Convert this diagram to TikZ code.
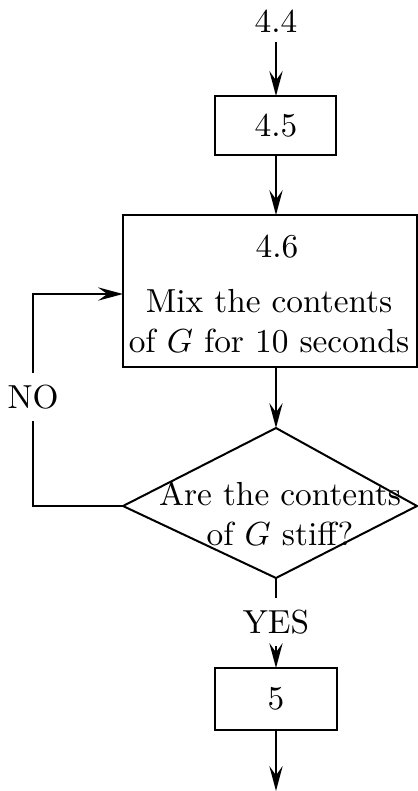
\documentclass[tikz,border=0pt]{standalone}
\usetikzlibrary{arrows.meta}
\begin{document}
\begin{tikzpicture}[x=0.3pt,y=-0.3pt, line width=0.6pt,
  >={Stealth[length=7.5pt,width=4pt,inset=2.8pt]},
  box/.style={draw, rectangle, inner sep=0pt, outer sep=0pt},
  lbl/.style={inner sep=3pt, outer sep=0pt}]
\useasboundingbox (0,0) rectangle (418,791);
\node[lbl] (t44) at (276,21) {4.4};
\node[box, minimum width=36.3pt, minimum height=17.7pt] (b45) at (276,125.5) {4.5};
\node[box, minimum width=88.2pt, minimum height=45.6pt] (b46) at (270,291) {};
\node (t46) at (277,247) {4.6};
\node[align=center, inner sep=0pt] (t46b) at (269,321) {Mix the contents\\of $G$ for 10 seconds};
\coordinate (dtop) at (276,428);
\coordinate (dleft) at (123,506);
\coordinate (dright) at (417,506);
\coordinate (dbot) at (276,578);
\draw (dtop) -- (dright) -- (dbot) -- (dleft) -- cycle;
\node[align=center, inner sep=0pt] (dtext) at (280,514) {Are the contents\\of $G$ stiff?};
\node[lbl, inner sep=3.5pt] (yes) at (276,622) {YES};
\node[box, minimum width=36.6pt, minimum height=18.6pt] (b5) at (276,699) {5};
\coordinate (end) at (276,791);
\node[lbl, inner sep=3.5pt] (no) at (33,397) {NO};
\coordinate (in) at (123,294);
\draw[->] (t44) -- (b45);
\draw[->] (b45) -- (b45 |- b46.north);
\draw[->] (b45 |- b46.south) -- (dtop);
\draw (dbot) -- (yes);
\draw[->] (yes) -- (b5);
\draw[->] (b5) -- (end);
\draw (dleft) -| (no);
\draw[->] (no) |- (in);
\end{tikzpicture}
\end{document}
